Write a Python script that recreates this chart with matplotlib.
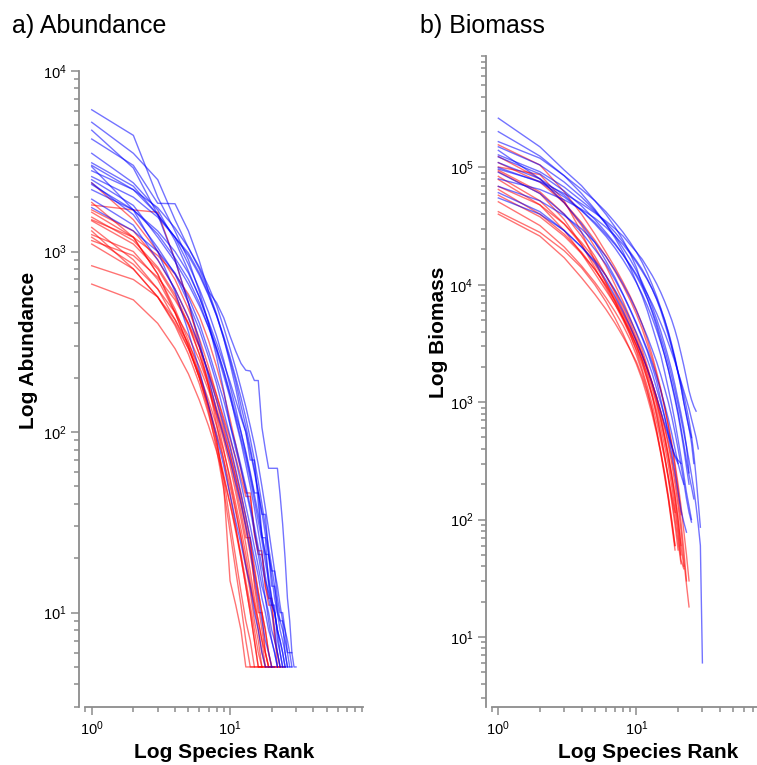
import numpy as np
import matplotlib
matplotlib.use('Agg')
import matplotlib.pyplot as plt
from matplotlib.ticker import LogLocator, NullFormatter

# abundance by species rank (rank 1 first), one list per sample
abund_blue = [
    [6100, 4400, 2000, 1300, 900, 600, 400, 260, 170, 110, 80, 62, 48, 37, 28, 21, 16, 12, 9, 7, 6, 5],
    [5200, 3500, 2500, 1500, 1050, 800, 600, 450, 330, 240, 175, 125, 100, 70, 70, 40, 26, 26, 14, 11, 11, 7, 6, 5, 5],
    [4700, 2900, 1600, 900, 520, 320, 200, 130, 95, 70, 52, 40, 30, 22, 16, 12, 9, 7, 6, 5],
    [4200, 3000, 1850, 1840, 1300, 885, 600, 520, 430, 340, 280, 240, 220, 218, 193, 193, 106, 80, 63, 63, 63, 63, 45, 31, 20, 12, 9, 6],
    [3500, 2400, 1700, 1150, 780, 560, 400, 290, 215, 160, 115, 88, 66, 50, 38, 28, 21, 16, 12, 10, 8, 6, 5, 5],
    [3100, 2300, 1600, 1200, 850, 620, 460, 340, 250, 180, 135, 100, 78, 60, 46, 46, 27, 21, 21, 14, 14, 10, 9, 9, 6, 5, 5],
    [2950, 1700, 1000, 600, 360, 220, 140, 95, 65, 45, 32, 24, 18, 14, 10, 8, 6, 5, 5, 5, 5],
    [2600, 2000, 1550, 1200, 950, 740, 570, 440, 340, 260, 200, 155, 120, 92, 70, 53, 40, 30, 23, 18, 14, 11, 9, 8, 7, 6, 5, 5],
    [2400, 1600, 1050, 750, 520, 370, 260, 185, 130, 95, 70, 52, 39, 30, 23, 18, 14, 12, 10, 8, 7, 6, 5],
    [2200, 1700, 1300, 1000, 760, 560, 410, 310, 240, 190, 150, 120, 100, 78, 60, 46, 35, 35, 21, 17, 17, 12, 10, 10, 8, 6, 6, 6, 5, 5],
    [1750, 1300, 1000, 760, 560, 400, 280, 200, 150, 110, 85, 65, 50, 39, 30, 23, 18, 15, 13, 11, 10, 8, 7, 6, 5],
    [2800, 2200, 1750, 1350, 1050, 820, 640, 500, 380, 290, 225, 175, 138, 108, 85, 66, 50, 38, 29, 22, 17, 14, 11, 9, 8, 7, 6, 5],
    [2350, 1700, 1250, 920, 700, 520, 380, 280, 205, 155, 120, 92, 72, 55, 42, 32, 25, 19, 15, 12, 10, 8, 6, 5],
    [1950, 1400, 900, 620, 430, 300, 210, 150, 110, 82, 60, 45, 34, 26, 20, 16, 12, 10, 8, 7, 6, 5],
    [3000, 2200, 1600, 1200, 980, 760, 580, 440, 330, 250, 190, 140, 108, 82, 62, 47, 36, 27, 21, 16, 12, 10, 8, 7, 6, 5],
    [2500, 1800, 1200, 880, 660, 500, 380, 290, 220, 165, 125, 100, 76, 58, 45, 35, 27, 21, 16, 12, 10, 8, 7, 6, 5, 5],
]

abund_red = [
    [2400, 1500, 1000, 700, 480, 330, 230, 160, 115, 85, 62, 46, 34, 25, 18, 13, 10, 8, 6, 5],
    [1870, 1200, 750, 480, 320, 210, 140, 90, 55, 32, 20, 13, 9, 7, 5, 5, 5],
    [1810, 1700, 1650, 900, 520, 300, 180, 110, 70, 45, 30, 20, 14, 10, 7, 5, 5, 5, 5],
    [1480, 1100, 800, 560, 390, 270, 190, 135, 100, 75, 56, 42, 31, 23, 17, 13, 10, 8, 6, 5, 5],
    [1360, 900, 620, 420, 290, 200, 140, 98, 70, 50, 36, 26, 19, 14, 11, 9, 7, 6, 5, 5, 5, 5],
    [1240, 1000, 700, 460, 300, 200, 130, 80, 48, 28, 17, 11, 7, 5, 5],
    [1200, 850, 620, 460, 340, 250, 180, 130, 95, 70, 50, 36, 26, 26, 14, 10, 10, 6, 5, 5, 5, 5, 5, 5, 5],
    [1100, 800, 560, 390, 270, 185, 125, 85, 58, 40, 28, 20, 14, 10, 7, 5, 5, 5],
    [834, 700, 560, 420, 310, 230, 170, 125, 90, 65, 46, 33, 24, 17, 12, 9, 7, 5],
    [660, 540, 400, 290, 210, 150, 108, 78, 56, 40, 29, 21, 15, 11, 8, 6, 5],
    [1650, 1200, 750, 460, 300, 200, 135, 90, 50, 15, 11, 8, 5, 5, 5, 5, 5],
    [1500, 1200, 950, 750, 580, 440, 320, 230, 165, 118, 85, 62, 46, 46, 27, 21, 21, 14, 12, 12, 8, 5, 5, 5, 5],
    [1300, 800, 560, 400, 290, 210, 150, 108, 78, 56, 40, 29, 21, 15, 11, 8, 6, 5, 5, 5, 5, 5, 5],
    [1700, 1300, 900, 620, 430, 300, 210, 148, 105, 76, 55, 40, 29, 21, 15, 11, 8, 6, 5],
    [1550, 1150, 820, 580, 400, 270, 180, 120, 80, 54, 37, 26, 18, 13, 9, 7, 5, 5, 5, 5],
    [1150, 950, 720, 540, 400, 295, 215, 160, 120, 92, 72, 56, 44, 44, 28, 22, 22, 14, 11, 11, 7, 6, 5],
]

# biomass by species rank
biomass_blue = [
    [263000, 150000, 95000, 70000, 52000, 40000, 31000, 24000, 18500, 14000, 10000, 7600, 5800, 4400, 3300, 2500, 1900, 1400, 1050, 780, 560, 400, 280, 200],
    [202000, 125000, 85000, 60000, 44000, 33000, 25000, 19000, 14000, 10500, 8000, 6000, 4400, 3300, 2500, 1800, 1300, 950, 680, 480, 340, 240, 170, 130, 100],
    [166000, 120000, 85000, 65000, 52000, 42000, 34000, 28000, 23000, 19000, 15500, 12500, 10000, 8000, 6300, 5000, 3900, 3000, 2300, 1750, 1350, 1000, 780, 600, 450, 300],
    [128000, 92000, 68000, 52000, 42000, 34000, 28000, 23000, 19000, 16000, 13500, 11200, 9200, 7500, 6000, 4700, 3700, 2900, 2300, 1800, 1450, 1150, 900, 700, 520, 360, 230, 140, 86],
    [123000, 88000, 63000, 47000, 36000, 28000, 22500, 18000, 14500, 11800, 9500, 7600, 6000, 4700, 3600, 2800, 2150, 1650, 1250, 950, 720, 550, 420, 320, 240, 180, 130, 90, 60, 6],
    [97000, 76000, 60000, 49000, 41000, 35000, 30000, 26000, 22000, 19000, 16500, 14000, 12000, 10200, 8600, 7200, 6000, 5000, 4100, 3300, 2600, 2050, 1600, 1250, 1050, 920, 838],
    [91000, 60000, 40000, 28000, 20000, 15000, 11000, 8200, 6100, 4600, 3500, 2700, 2000, 1500, 1050, 750, 520, 360, 250, 170, 120, 95, 78],
    [69000, 52000, 39000, 30000, 23000, 17500, 13300, 10100, 7800, 6000, 4600, 3600, 2800, 2200, 1700, 1300, 1000, 750, 550, 400, 290, 210, 150, 115, 95],
    [61000, 42000, 29000, 21000, 15500, 11000, 8000, 5900, 4400, 3300, 2500, 1900, 1450, 1100, 830, 650, 520, 420, 350, 320, 300],
    [150000, 105000, 75000, 56000, 43000, 33000, 26000, 20500, 16500, 13200, 10500, 8300, 6500, 5100, 4000, 3100, 2400, 1850, 1400, 1050, 800, 600, 420, 250],
    [110000, 80000, 58000, 43000, 33000, 26000, 20500, 16300, 13000, 10400, 8300, 6600, 5200, 4100, 3200, 2500, 1900, 1450, 1100, 820, 600, 440, 320, 240, 190, 150],
    [80000, 65000, 53000, 44000, 37000, 31000, 26000, 22000, 18500, 15500, 13000, 11000, 9200, 7600, 6200, 5000, 4000, 3100, 2400, 1800, 1350, 1000, 760, 600, 500],
    [140000, 80000, 50000, 33000, 23000, 16000, 11500, 8300, 6200, 4700, 3600, 2800, 2150, 1650, 1250, 950, 720, 540, 400, 300, 240, 200],
    [100000, 75000, 56000, 43000, 34000, 27000, 22000, 18000, 14800, 12200, 10000, 8300, 6900, 5700, 4700, 3900, 3200, 2650, 2200, 1800, 1500, 1250, 1050, 880, 720, 600, 500, 400],
    [55000, 40000, 29000, 21000, 16000, 12000, 9000, 6800, 5100, 3900, 3000, 2300, 1750, 1300, 980, 740, 560, 420, 340, 300],
]

biomass_red = [
    [156000, 105000, 62000, 40000, 27000, 19000, 14000, 10500, 8000, 6100, 4600, 3400, 2500, 1800, 1300, 900, 620, 420, 280, 180, 110],
    [124000, 80000, 50000, 32000, 21000, 14500, 10000, 7200, 5200, 3800, 2800, 2000, 1450, 1050, 750, 520, 360, 240, 160, 100, 60, 40],
    [101000, 87000, 52000, 28000, 16000, 10500, 7200, 5200, 3900, 3000, 2300, 1750, 1300, 950, 680, 480, 330, 220, 140, 85, 50],
    [92000, 60000, 36000, 22000, 14000, 9500, 6800, 5000, 3700, 2800, 2100, 1550, 1150, 850, 600, 420, 290, 190, 120, 75, 45, 38],
    [84000, 52000, 33000, 22000, 15000, 10500, 7700, 5700, 4300, 3300, 2500, 1900, 1450, 1100, 820, 600, 430, 300, 200, 130, 80, 45, 28, 18],
    [79000, 48000, 29000, 18500, 12500, 9000, 6800, 5200, 4000, 3100, 2300, 1650, 1150, 780, 520, 340, 220, 140, 90, 55],
    [69000, 48000, 33000, 23000, 16500, 12000, 8800, 6500, 4800, 3500, 2600, 1900, 1400, 1000, 720, 500, 350, 240, 160, 100, 60],
    [58000, 38000, 26000, 18500, 13500, 10000, 7400, 5500, 4100, 3000, 2200, 1550, 1100, 760, 520, 350, 230, 150, 100, 65, 42],
    [51000, 32000, 21000, 14500, 10500, 7800, 5900, 4500, 3400, 2500, 1800, 1250, 850, 560, 360, 230, 150, 95, 60],
    [42000, 28000, 19500, 14000, 10000, 7200, 5200, 3800, 2800, 2100, 1550, 1100, 780, 540, 370, 250, 160, 100, 60],
    [40000, 26000, 17000, 11500, 8300, 6200, 4700, 3600, 2800, 2200, 1650, 1200, 850, 580, 380, 240, 150, 90, 55],
    [110000, 75000, 50000, 34000, 24000, 17500, 13000, 9800, 7400, 5600, 4200, 3100, 2300, 1700, 1250, 900, 640, 450, 300, 200, 130, 80, 50, 30],
    [65000, 40000, 27000, 19000, 13500, 9800, 7200, 5200, 3800, 2700, 1900, 1350, 950, 670, 470, 330, 230, 160, 115],
    [95000, 62000, 40000, 26000, 17500, 12000, 8500, 6100, 4500, 3300, 2500, 1900, 1450, 1100, 830, 620, 460, 330, 230, 150, 95, 55, 30],
]

plt.rcParams['font.family'] = ['Liberation Sans', 'DejaVu Sans']
plt.rcParams['mathtext.default'] = 'regular'

W, H = 757, 765
fig = plt.figure(figsize=(W / 100, H / 100), dpi=100)


def px_axes(x0, y0, x1, y1):
    return fig.add_axes([x0 / W, 1 - y1 / H, (x1 - x0) / W, (y1 - y0) / H])


def style(ax, ylim):
    ax.set_xscale('log')
    ax.set_yscale('log')
    ax.set_xlim(0.9, 91)
    ax.set_ylim(*ylim)
    for s in ['top', 'right']:
        ax.spines[s].set_visible(False)
    for s in ['left', 'bottom']:
        ax.spines[s].set_color('#8c8c8c')
        ax.spines[s].set_linewidth(1.3)
    ax.spines['left'].set_position(('outward', 4.5))
    for axis in [ax.xaxis, ax.yaxis]:
        axis.set_major_locator(LogLocator(base=10, numticks=12))
        axis.set_minor_locator(LogLocator(base=10, subs=np.arange(2, 10), numticks=12))
        axis.set_minor_formatter(NullFormatter())
    ax.tick_params(which='both', direction='out', color='#8c8c8c', width=1.1,
                   labelsize=10.5, labelcolor='black')
    ax.tick_params(which='major', length=5.5)
    ax.tick_params(which='minor', length=3.5)


def draw(ax, lines, color):
    for vals in lines:
        ranks = np.arange(1, len(vals) + 1)
        ax.plot(ranks, vals, color=color, lw=1.0, alpha=0.55)


ax_a = px_axes(85.4, 71, 362.7, 707)
ax_b = px_axes(492, 55.5, 769, 706.7)

draw(ax_a, abund_red, 'red')
draw(ax_a, abund_blue, 'blue')
style(ax_a, (3, 1e4))

draw(ax_b, biomass_red, 'red')
draw(ax_b, biomass_blue, 'blue')
style(ax_b, (2.54, 9e5))

fig.text(12 / W, 1 - 26 / H, 'a) Abundance', fontsize=18, va='center', ha='left')
fig.text(420 / W, 1 - 26 / H, 'b) Biomass', fontsize=18, va='center', ha='left')

fig.text(224 / W, 1 - 753 / H, 'Log Species Rank', fontsize=15, fontweight='bold',
         ha='center', va='center')
fig.text(648 / W, 1 - 753 / H, 'Log Species Rank', fontsize=15, fontweight='bold',
         ha='center', va='center')
fig.text(29 / W, 1 - 350 / H, 'Log Abundance', fontsize=15, fontweight='bold',
         ha='center', va='center', rotation=90)
fig.text(438 / W, 1 - 332 / H, 'Log Biomass', fontsize=15, fontweight='bold',
         ha='center', va='center', rotation=90)

fig.savefig('out.png', dpi=100)
